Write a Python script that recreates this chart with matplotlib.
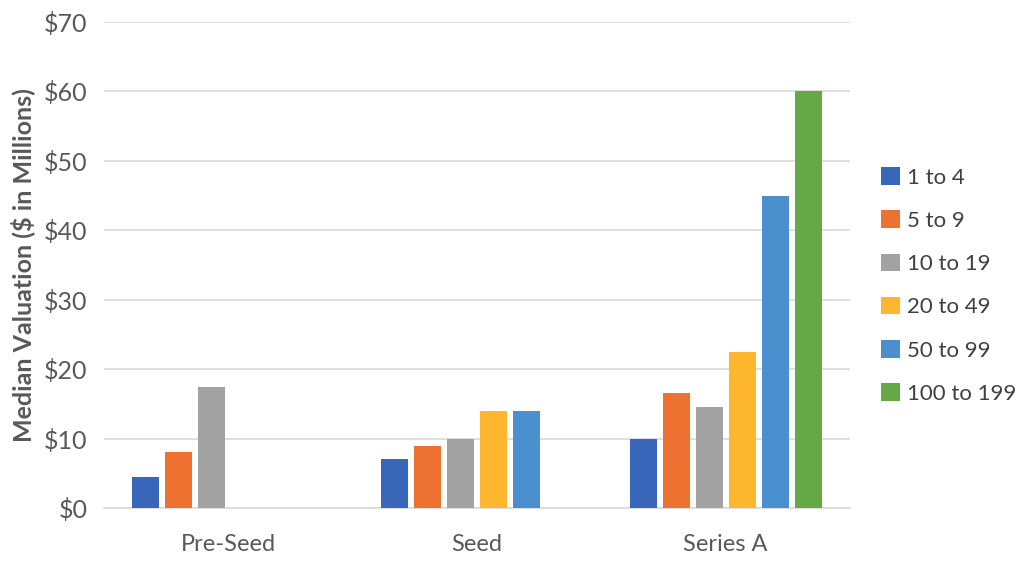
import matplotlib
matplotlib.use("Agg")
import matplotlib.pyplot as plt
import numpy as np

categories = ["Pre-Seed", "Seed", "Series A"]
series_names = ["1 to 4", "5 to 9", "10 to 19", "20 to 49", "50 to 99", "100 to 199"]
s_1_4 = [4.5, 7, 10]
s_5_9 = [8, 9, 16.5]
s_10_19 = [17.5, 10, 14.5]
s_20_49 = [np.nan, 14, 22.5]
s_50_99 = [np.nan, 14, 45]
s_100_199 = [np.nan, np.nan, 60]
series_values = [s_1_4, s_5_9, s_10_19, s_20_49, s_50_99, s_100_199]
colors = ["#3867BA", "#ED7232", "#A2A2A2", "#FDB62D", "#4A90CF", "#65A846"]
yticks = [0, 10, 20, 30, 40, 50, 60, 70]

plt.rcParams['font.family'] = ['Lato', 'DejaVu Sans']
fig = plt.figure(figsize=(10.24, 5.62), dpi=100)
ax = fig.add_axes([0.1016, 0.096, 0.7285, 0.865])

x = np.arange(len(categories))
slot = 0.1327
bw = 0.1086
n = len(series_names)
for i, (name, vals, c) in enumerate(zip(series_names, series_values, colors)):
    ax.bar(x + (i - (n - 1) / 2) * slot, vals, width=bw, color=c, label=name, zorder=3)

ax.set_xlim(-0.5, 2.5)
ax.set_ylim(0, 70)
ax.set_yticks(yticks)
ax.set_yticklabels([f"${v}" for v in yticks])
ax.set_xticks(x)
ax.set_xticklabels(categories)
ax.grid(axis='y', color='#D9D9D9', linewidth=1.2, zorder=0)
for s in ['top', 'right', 'left']:
    ax.spines[s].set_visible(False)
ax.spines['bottom'].set_color('#D9D9D9')
ax.spines['bottom'].set_linewidth(1.2)
ax.tick_params(axis='both', length=0, colors='#595959')
ax.tick_params(axis='y', pad=12, labelsize=18)
ax.tick_params(axis='x', pad=19, labelsize=17)
ax.set_ylabel("Median Valuation ($ in Millions)", fontsize=18, fontweight='bold', color='#595959', labelpad=6)

leg = ax.legend(loc='center left', bbox_to_anchor=(1.03, 0.458), frameon=False, borderaxespad=0,
                fontsize=16, handlelength=0.85, handleheight=0.85, handletextpad=0.3,
                labelspacing=1.02, labelcolor='#404040')

fig.savefig("out.png", dpi=100)
